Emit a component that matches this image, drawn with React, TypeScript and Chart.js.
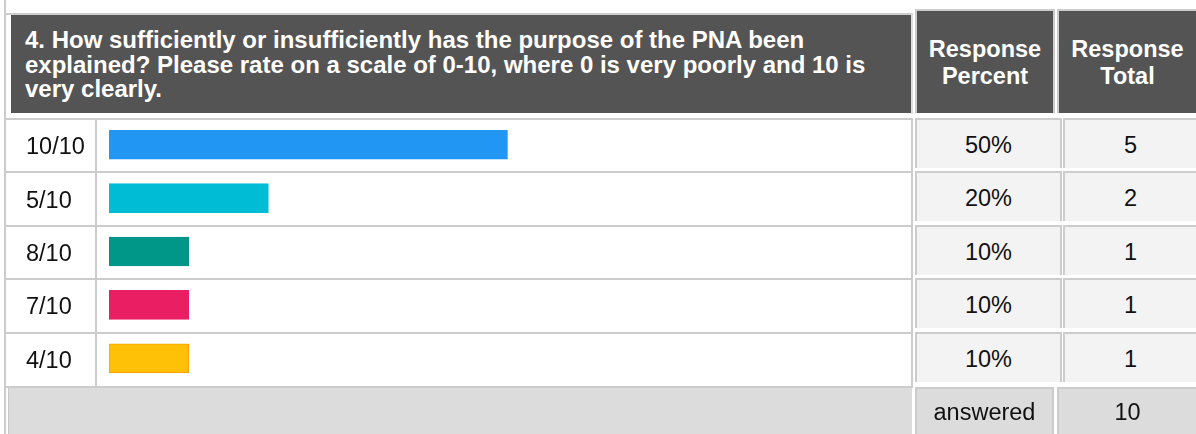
import React, { useEffect, useRef } from "react";
import { Chart, registerables } from "chart.js";

Chart.register(...registerables);

const questionLines = [
  "4. How sufficiently or insufficiently has the purpose of the PNA been",
  "explained? Please rate on a scale of 0-10, where 0 is very poorly and 10 is",
  "very clearly.",
];
const headerPercent = ["Response", "Percent"];
const headerTotal = ["Response", "Total"];
const categories = ["10/10", "5/10", "8/10", "7/10", "4/10"];
const percents = [50, 20, 10, 10, 10];
const totals = [5, 2, 1, 1, 1];
const answeredLabel = "answered";
const answeredTotal = 10;

const barColors = ["#2196F3", "#00BCD4", "#009688", "#E91E63", "#FFC107"];
const barBorders = ["#2196F3", "#00BCD4", "#009688", "#E91E63", "#FFA000"];

const FONT = "'Liberation Sans', Arial, Helvetica, sans-serif";
const LINE = "#cccccc";
const DARK = "#545454";
const ROW_TOP = 118;
const ROW_H = 53.4;
const TICK_SIZE = 23.5;
const TICK_PAD = (TICK_SIZE * 1.2) / 2;

export default function App() {
  const ref = useRef<HTMLCanvasElement | null>(null);

  useEffect(() => {
    document.body.style.margin = "0";
    const canvas = ref.current;
    if (!canvas) return;
    const chart = new Chart(canvas, {
      type: "bar",
      data: {
        labels: categories,
        datasets: [
          {
            data: percents,
            backgroundColor: barColors,
            borderColor: barBorders,
            borderWidth: 1,
            borderSkipped: false,
            barThickness: 29,
          },
        ],
      },
      options: {
        indexAxis: "y",
        animation: false,
        responsive: false,
        devicePixelRatio: 1,
        layout: { padding: { left: 21, right: 5, top: 0, bottom: 0 } },
        plugins: { legend: { display: false }, tooltip: { enabled: false } },
        scales: {
          x: { min: 0, max: 100, display: false },
          y: {
            grid: { display: false },
            border: { display: false },
            ticks: {
              crossAlign: "far",
              padding: 0,
              labelOffset: 3,
              color: "#111111",
              font: { family: FONT, size: TICK_SIZE, lineHeight: 1.2 },
            },
            afterFit: (s: any) => {
              s.width = 83;
            },
          },
        },
      },
    } as any);
    return () => chart.destroy();
  }, []);

  const abs = (l: number, t: number, w: number, h: number, extra: any = {}) => ({
    position: "absolute" as const,
    left: l,
    top: t,
    width: w,
    height: h,
    ...extra,
  });

  const centerText = (extra: any = {}) => ({
    display: "flex",
    alignItems: "center",
    justifyContent: "center",
    fontFamily: FONT,
    fontSize: 23.5,
    color: "#111",
    boxSizing: "border-box" as const,
    ...extra,
  });

  const canvasTop = Math.round(ROW_TOP - TICK_PAD);
  const canvasH = Math.round(ROW_H * 5 + 2 * TICK_PAD);

  return (
    <div style={{ position: "relative", width: 1196, height: 434, overflow: "hidden", background: "#fff" }}>
      {/* left outer line */}
      <div style={abs(4, 0, 2, 434, { background: LINE })} />

      {/* question header */}
      <div style={abs(4, 13, 909, 2, { background: LINE })} />
      <div style={abs(911, 13, 2, 101, { background: "#dddddd" })} />
      <div style={abs(11, 15, 900, 98, { background: DARK })} />
      <div
        style={abs(25, 28, 885, 80, {
          color: "#fff",
          fontFamily: FONT,
          fontWeight: "bold",
          fontSize: 24,
          lineHeight: "24.5px",
          whiteSpace: "nowrap",
        })}
      >
        {questionLines.map((l, i) => (
          <div key={i}>{l}</div>
        ))}
      </div>

      {/* response headers */}
      <div style={abs(915, 9, 140, 104, { background: LINE })} />
      <div
        style={abs(917, 11, 136, 102, {
          ...centerText({ color: "#fff", fontWeight: "bold", lineHeight: "27px", flexDirection: "column", paddingTop: 2 }),
          background: DARK,
        })}
      >
        {headerPercent.map((l, i) => (
          <div key={i}>{l}</div>
        ))}
      </div>
      <div style={abs(1057, 9, 139, 104, { background: LINE })} />
      <div
        style={abs(1059, 11, 137, 102, {
          ...centerText({ color: "#fff", fontWeight: "bold", lineHeight: "27px", flexDirection: "column", paddingTop: 2 }),
          background: DARK,
        })}
      >
        {headerTotal.map((l, i) => (
          <div key={i}>{l}</div>
        ))}
      </div>

      {/* row grid lines */}
      {categories.map((_, i) => (
        <div key={"h" + i} style={abs(4, Math.round(ROW_TOP + i * ROW_H), 909, 2, { background: LINE })} />
      ))}
      <div style={abs(95, ROW_TOP, 2, 268, { background: LINE })} />
      <div style={abs(911, ROW_TOP, 2, 268, { background: LINE })} />

      {/* percent / total cells */}
      {categories.map((_, i) => {
        const top = Math.round(ROW_TOP + i * ROW_H);
        return (
          <React.Fragment key={"c" + i}>
            <div
              style={abs(915, top, 147, 50, {
                ...centerText({ paddingTop: 2 }),
                background: "#f3f3f3",
                borderTop: "2px solid " + LINE,
                borderLeft: "2px solid " + LINE,
                borderRight: "2px solid " + LINE,
              })}
            >
              {percents[i] + "%"}
            </div>
            <div
              style={abs(1063, top, 140, 50, {
                ...centerText({ paddingTop: 2, paddingRight: 7 }),
                background: "#f3f3f3",
                borderTop: "2px solid " + LINE,
                borderLeft: "2px solid " + LINE,
              })}
            >
              {totals[i]}
            </div>
          </React.Fragment>
        );
      })}

      {/* chart canvas */}
      <canvas ref={ref} width={906} height={canvasH} style={abs(5, canvasTop, 906, canvasH)} />

      {/* footer */}
      <div style={abs(6, 386, 907, 2, { background: LINE })} />
      <div style={abs(8, 388, 904, 46, { background: "#dcdcdc", borderLeft: "1px solid #c8c8c8", boxSizing: "border-box" })} />
      <div
        style={abs(915, 387, 139, 47, {
          ...centerText({ paddingTop: 2 }),
          background: "#dcdcdc",
          borderTop: "2px solid " + LINE,
          borderLeft: "2px solid " + LINE,
          borderRight: "2px solid " + LINE,
        })}
      >
        {answeredLabel}
      </div>
      <div
        style={abs(1057, 387, 139, 47, {
          ...centerText({ paddingTop: 2 }),
          background: "#dcdcdc",
          borderTop: "2px solid " + LINE,
          borderLeft: "2px solid " + LINE,
        })}
      >
        {answeredTotal}
      </div>
    </div>
  );
}
